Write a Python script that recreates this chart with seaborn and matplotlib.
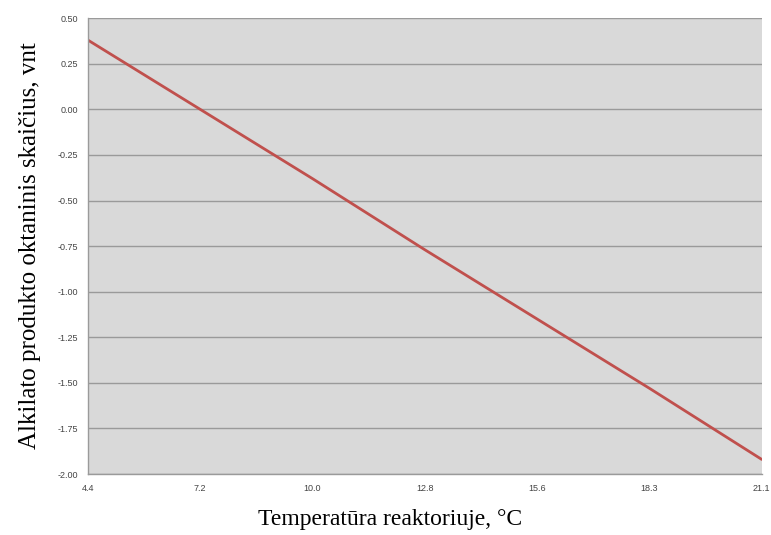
import matplotlib
matplotlib.use("Agg")
import matplotlib.pyplot as plt
import seaborn as sns
import pandas as pd
import numpy as np

temps = ["4.4", "7.2", "10.0", "12.8", "15.6", "18.3", "21.1"]
octane = [0.38, 0.0, -0.38, -0.77, -1.15, -1.53, -1.92]
y_ticks = [0.50, 0.25, 0.00, -0.25, -0.50, -0.75, -1.00, -1.25, -1.50, -1.75, -2.00]

sns.set_style("white")
plt.rcParams['font.family'] = ['Liberation Sans', 'DejaVu Sans']

df = pd.DataFrame({"pos": np.arange(len(temps)), "val": octane})

fig = plt.figure(figsize=(7.71, 5.35), dpi=100)
ax = fig.add_axes([0.114, 0.114, 0.874, 0.852])
ax.set_facecolor("#d9d9d9")
sns.lineplot(data=df, x="pos", y="val", ax=ax, color="#c0504d", linewidth=2)

ax.set_xlim(0, len(temps) - 1)
ax.set_ylim(-2.0, 0.5)
ax.set_xticks(df["pos"])
ax.set_xticklabels(temps, fontsize=6.5, color="#444444")
ax.set_yticks(y_ticks)
ax.set_yticklabels([f"{v:.2f}" for v in y_ticks], fontsize=6.5, color="#444444")
ax.yaxis.grid(True, color="#9a9a9a", linewidth=1)
ax.xaxis.grid(False)
ax.set_axisbelow(True)
for s in ["top", "right"]:
    ax.spines[s].set_visible(False)
for s in ["left", "bottom"]:
    ax.spines[s].set_color("#9a9a9a")
    ax.spines[s].set_linewidth(1)
ax.tick_params(axis="both", which="both", length=4, color="#9a9a9a", width=1, direction="out", pad=3)

ax.set_xlabel("Temperatūra reaktoriuje, °C", fontsize=17, color="black",
              family=["Liberation Serif", "DejaVu Serif"], labelpad=12)
ax.xaxis.label.set_x(0.448)
ax.set_ylabel("Alkilato produkto oktaninis skaičius, vnt", fontsize=18, color="black",
              family=["Liberation Serif", "DejaVu Serif"], labelpad=12)

fig.savefig("out.png", dpi=100)
